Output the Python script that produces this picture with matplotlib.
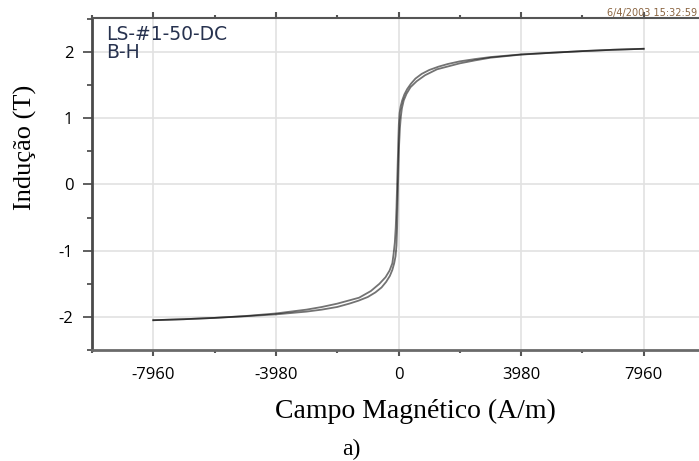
import matplotlib.pyplot as plt
from matplotlib.ticker import MultipleLocator

# ramo descendente (de +H para -H)
h_desc = [7960, 6965, 5970, 4975, 3980, 2985, 2488, 1990, 1600, 1300, 1000, 750, 550,
          400, 280, 190, 120, 70, 35, 10, -10, -30, -45, -65, -90, -120, -160, -200,
          -290, -420, -620, -900, -1280, -1990, -2488, -2985, -3980, -4975, -5970,
          -6965, -7960]
b_desc = [2.05, 2.035, 2.015, 1.99, 1.965, 1.925, 1.895, 1.86, 1.82, 1.78, 1.73, 1.67, 1.60,
          1.52, 1.44, 1.36, 1.27, 1.18, 1.08, 0.90, 0.60, 0.25, 0.0, -0.35, -0.65, -0.88,
          -1.05, -1.19, -1.30, -1.40, -1.50, -1.61, -1.71, -1.80, -1.85, -1.89, -1.948,
          -1.987, -2.015, -2.035, -2.05]

# ramo ascendente (de -H para +H)
h_asc = [-7960, -6965, -5970, -4975, -3980, -2985, -2488, -1990, -1600, -1300, -1000,
         -750, -550, -400, -280, -200, -140, -95, -65, -45, -30, -15, 0, 20, 45, 75, 110,
         170, 260, 390, 590, 860, 1250, 1990, 2488, 2985, 3980, 4975, 5970, 6965, 7960]
b_asc = [-2.05, -2.035, -2.015, -1.99, -1.962, -1.92, -1.89, -1.85, -1.80, -1.755, -1.70,
         -1.63, -1.555, -1.47, -1.38, -1.29, -1.19, -1.08, -0.92, -0.65, -0.30, 0.0, 0.30,
         0.60, 0.85, 1.02, 1.15, 1.27, 1.37, 1.47, 1.56, 1.65, 1.74, 1.83, 1.875, 1.915,
         1.962, 1.99, 2.015, 2.035, 2.05]

x_ticks = [-7960, -3980, 0, 3980, 7960]
y_ticks = [-2, -1, 0, 1, 2]

fig = plt.figure(figsize=(6.99, 4.61), dpi=100)
ax = fig.add_axes([92 / 699, 1 - 350 / 461, 613 / 699, 332 / 461])

ax.plot(h_desc, b_desc, color='black', alpha=0.55, lw=1.3)
ax.plot(h_asc, b_asc, color='black', alpha=0.55, lw=1.3)

ax.set_xlim(-9950, 9950)
ax.set_ylim(-2.5, 2.515)
ax.set_xticks(x_ticks)
ax.set_xticklabels([str(v) for v in x_ticks])
ax.set_yticks(y_ticks)
ax.set_yticklabels([str(v) for v in y_ticks])
ax.xaxis.set_minor_locator(MultipleLocator(1990))
ax.yaxis.set_minor_locator(MultipleLocator(0.5))
ax.grid(True, which='major', color='#e2e2e2', lw=1.2)
ax.set_axisbelow(True)

for lab in ax.get_xticklabels() + ax.get_yticklabels():
    lab.set_fontfamily('Open Sans')
    lab.set_fontsize(12)

ax.tick_params(axis='y', which='major', direction='out', length=6.5, width=1.2,
               color='#444444', pad=7)
ax.tick_params(axis='y', which='minor', direction='out', length=3.5, width=1.2,
               color='#444444')
ax.tick_params(axis='x', which='major', direction='out', length=4.5, width=1.5,
               color='#555555', pad=8, top=True)
ax.tick_params(axis='x', which='minor', direction='out', length=2.5, width=1.5,
               color='#555555', top=True)

ax.spines['left'].set_color('#4a4a4a')
ax.spines['left'].set_linewidth(2.0)
ax.spines['bottom'].set_color('#6a6a6a')
ax.spines['bottom'].set_linewidth(2.0)
ax.spines['top'].set_color('#555555')
ax.spines['top'].set_linewidth(1.5)
ax.spines['right'].set_visible(False)

# legendas do ensaio no canto do gráfico
fig.text(106 / 699, 1 - 34 / 461, 'LS-#1-50-DC', fontsize=13.5, color='#27324f',
         family='DejaVu Sans', ha='left', va='center')
fig.text(106 / 699, 1 - 53 / 461, 'B-H', fontsize=13.5, color='#27324f',
         family='DejaVu Sans', ha='left', va='center')
fig.text(697 / 699, 1 - 13 / 461, '6/4/2003 15:32:59', fontsize=7, color='#8a6440',
         family='DejaVu Sans', ha='right', va='center')

fig.text(25 / 699, 1 - 147 / 461, 'Indução (T)', rotation=90, fontsize=19,
         family='Liberation Serif', ha='center', va='center')
fig.text(415 / 699, 1 - 411 / 461, 'Campo Magnético (A/m)', fontsize=20,
         family='Liberation Serif', ha='center', va='center')
fig.text(351 / 699, 1 - 449 / 461, 'a)', fontsize=17,
         family='Liberation Serif', ha='center', va='center')

fig.savefig('out.png', dpi=100)
